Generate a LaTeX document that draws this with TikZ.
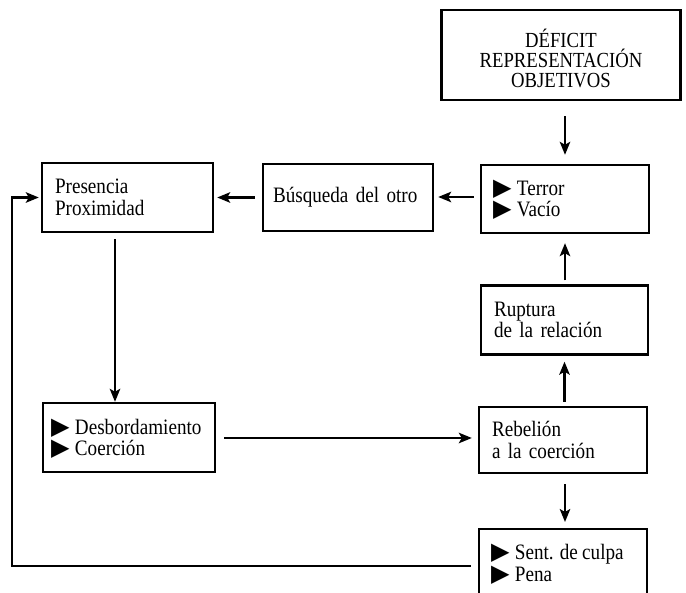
\documentclass[tikz,border=0pt]{standalone}
\usepackage{fontspec}
\setmainfont{Liberation Serif}[FakeStretch=0.87]
\newfontfamily\symfont{DejaVu Sans}
\usetikzlibrary{arrows.meta,calc}

% black pointer used in front of list items
\newcommand{\itemmark}{\smash{\symfont\fontsize{24pt}{24pt}\selectfont ▶}\hspace{5.5pt}}
% body text of the boxes
\newcommand{\boxtext}{\fontsize{22pt}{21.7pt}\selectfont\spaceskip=4.4pt\relax}

\tikzset{
  box/.style={draw, line width=2.4pt, inner sep=0pt, align=left, font=\boxtext},
  txt/.style={inner sep=0pt, align=left, font=\boxtext},
  arr/.style={line width=2.2pt, -{Stealth[length=13pt,width=10.5pt,inset=3pt]}},
}

\begin{document}
\begin{tikzpicture}[x=1pt,y=-1pt]
  \useasboundingbox (0,0) rectangle (686,593);
  \clip (0,0) rectangle (686,593);

  % boxes
  \node[box, minimum width=239pt, minimum height=90pt] (deficit) at (561,55) {};
  \node[txt, align=center, font=\fontsize{21.5pt}{20pt}\selectfont] (deficitlbl)
        at ($(deficit.center)+(0,3)$) {DÉFICIT\\REPRESENTACIÓN\\OBJETIVOS};
  \node[box, minimum width=168pt, minimum height=68pt, text width=144pt] (terror) at (565,199)
        {\itemmark Terror\\\itemmark Vacío};
  \node[box, minimum width=170pt, minimum height=67pt, text width=150pt] (busq) at (348,197.5)
        {Búsqueda del otro};
  \node[box, minimum width=171pt, minimum height=69pt, text width=145pt] (pres) at (127.5,197.5)
        {Presencia\\Proximidad};
  \node[box, minimum width=167pt, minimum height=69pt, text width=141pt] (rupt) at (564.5,320)
        {Ruptura\\de la relación};
  \node[box, minimum width=168pt, minimum height=66pt, text width=142pt] (rebel) at (563,440)
        {Rebelión\\a la coerción};
  \node[box, minimum width=172pt, minimum height=69pt, text width=156pt] (desb) at (129,437.5)
        {\itemmark Desbordamiento\\\itemmark Coerción};
  \node[box, minimum width=168pt, minimum height=100pt, anchor=north] (sentbox) at (563,528) {};
  \node[txt, anchor=west] (sentlbl) at ($(sentbox.north west)+(13,35)$)
        {\itemmark Sent. de culpa\\\itemmark Pena};

  % vertical chain on the right
  \draw[arr] ($(deficit.south -| terror.north)+(0,15)$) -- ($(terror.north)+(0,-9)$);
  \draw[arr] ($(rupt.north -| terror.south)+(0,-4)$) -- ($(terror.south)+(0,9)$);
  \draw[arr] ($(rebel.north -| rupt.south)+(0,-4)$) -- ($(rupt.south)+(0,6)$);
  \draw[arr] ($(rebel.south -| terror.south)+(0,10)$) -- ($(sentbox.north -| terror.south)+(0,-6)$);

  % top row, right to left
  \draw[arr] ($(terror.west)+(-6,-2)$) -- ($(terror.west -| busq.east)+(4,-2)$);
  \draw[arr] ($(busq.west)+(-7,0)$) -- ($(busq.west -| pres.east)+(3,0)$);

  % left column and middle row
  \coordinate (pdrop) at ($(pres.south)+(-12.5,6)$);
  \draw[arr] (pdrop) -- (pdrop |- desb.north);
  \draw[arr] ($(desb.east)+(8,0.5)$) -- ($(desb.east -| rebel.west)+(-6,0.5)$);

  % feedback loop back to the first box
  \coordinate (fbs) at ($(sentbox.north west)+(-7,38)$);
  \coordinate (fbc) at (12,197.5);
  \draw[arr] (fbs) -| (fbc) -- ($(fbc -| pres.west)+(-2,0)$);
\end{tikzpicture}
\end{document}
